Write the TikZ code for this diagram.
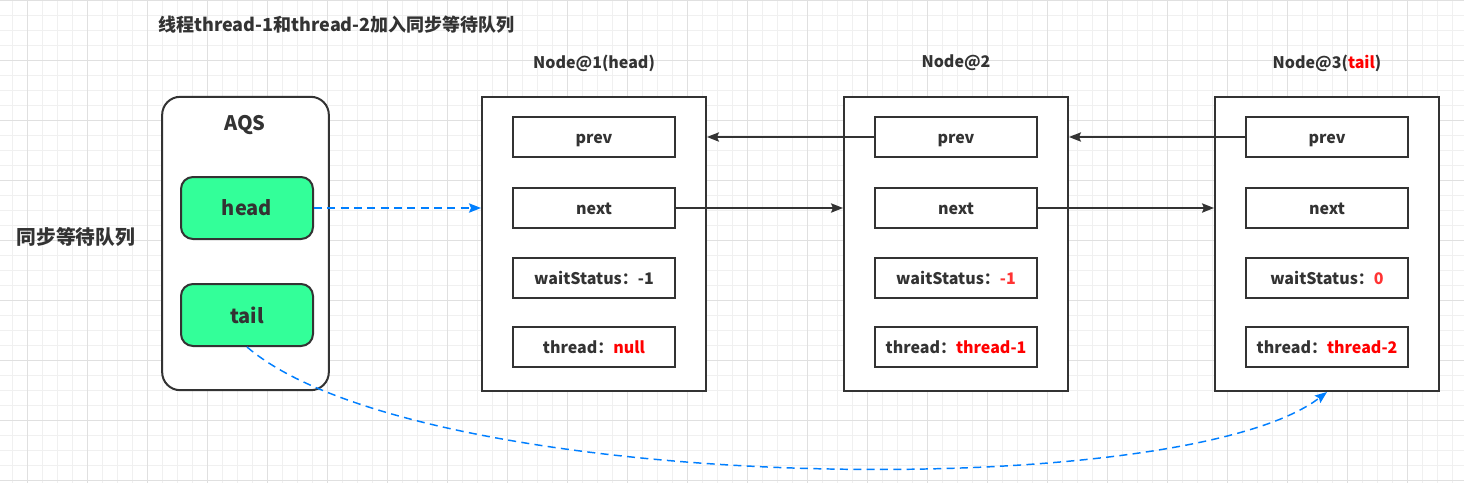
\documentclass[tikz,border=0pt]{standalone}
\usepackage{fontspec}
\setmainfont{Noto Sans CJK SC}
\usetikzlibrary{arrows.meta}
\definecolor{ink}{HTML}{333333}
\definecolor{qgreen}{HTML}{33FF99}
\definecolor{qblue}{HTML}{007FFF}
\definecolor{qred}{HTML}{FF0000}
\definecolor{qredl}{HTML}{FF3333}
\definecolor{gridmin}{HTML}{F0F0F0}
\definecolor{gridmaj}{HTML}{E0E0E0}
\newcommand{\hl}[1]{\textcolor{qred}{#1}}
\newcommand{\hll}[1]{\textcolor{qredl}{#1}}

\begin{document}
\begin{tikzpicture}[x=0.75pt, y=-0.75pt, line width=1.5pt, text=ink,
    nodebox/.style={draw=ink, fill=white, minimum width=168pt, minimum height=220.5pt, inner sep=0pt},
    field/.style={draw=ink, fill=white, minimum width=121.5pt, minimum height=30pt, inner sep=0pt,
      text height=10.5pt, text depth=0.5pt, font=\bfseries\fontsize{12}{14}\selectfont},
    ptr/.style={draw=ink, line width=1.1pt, -{Stealth[length=9pt, width=7pt, inset=1.5pt]}},
    ref/.style={draw=qblue, line width=1.1pt, dash pattern=on 6pt off 4pt,
      -{Stealth[length=9pt, width=7pt, inset=1.5pt]}}]
  \useasboundingbox (0,0) rectangle (1464,483);
  % grid
  \fill[white] (0,0) rectangle (1464,483);
  \foreach \x in {12,27,...,1462} { \draw[gridmin, line width=0.75pt] (\x,0) -- (\x,483); }
  \foreach \y in {0,15,...,480} { \draw[gridmin, line width=0.75pt] (0,\y) -- (1464,\y); }
  \foreach \x in {27,87,...,1462} { \draw[gridmaj, line width=0.75pt] (\x,0) -- (\x,483); }
  \foreach \y in {0,60,...,480} { \draw[gridmaj, line width=0.75pt] (0,\y) -- (1464,\y); }

  \node[font=\bfseries\fontsize{13.5}{16}\selectfont] (title) at (336.5,25) {线程thread-1和thread-2加入同步等待队列};
  \node[font=\bfseries\fontsize{14.8}{17}\selectfont] (queue) at (76,237) {同步等待队列};

  % AQS
  \node[draw=ink, fill=white, rounded corners=13.5pt, minimum width=125pt, minimum height=220pt] (aqs) at (245.5,243.5) {};
  \node[font=\bfseries\fontsize{15}{18}\selectfont] (aqs-lbl) at (245,125) {AQS};
  \node[draw=ink, fill=qgreen, rounded corners=9pt, minimum width=99pt, minimum height=46.5pt,
    font=\bfseries\fontsize{15}{18}\selectfont] (head) at (247,208) {head};
  \node[draw=ink, fill=qgreen, rounded corners=9pt, minimum width=99pt, minimum height=46.5pt,
    font=\bfseries\fontsize{15}{18}\selectfont] (tail) at (247,315) {tail};

  % queue nodes
  \foreach \i/\x/\lbl/\ws/\th in {1/594/Node@1(head)/-1/null,
      2/956/Node@2/\hll{-1}/thread-1, 3/1327/Node@3(\hl{tail})/\hll{0}/thread-2} {
    \node[font=\bfseries\fontsize{12}{14}\selectfont] (n\i-lbl) at (\x,63) {\lbl};
    \node[nodebox] (n\i) at (\x,244) {};
    \node[field] (n\i-p) at (\x,137) {prev};
    \node[field] (n\i-n) at (\x,208) {next};
    \node[field] (n\i-w) at (\x,278) {waitStatus：\ws};
    \node[field] (n\i-t) at (\x,347) {thread：\hl{\th}};
  }

  \draw[ptr] (n2-p.west) -- (n2-p.west -| n1.east);
  \draw[ptr] (n3-p.west) -- (n3-p.west -| n2.east);
  \draw[ptr] (n1-n.east) -- (n1-n.east -| n2.west);
  \draw[ptr] (n2-n.east) -- (n2-n.east -| n3.west);
  \draw[ref] (head.east) -- (head.east -| n1.west);
  \draw[ref] (tail.south) .. controls (420,495) and (1180,505) .. (n3.south);
\end{tikzpicture}
\end{document}
